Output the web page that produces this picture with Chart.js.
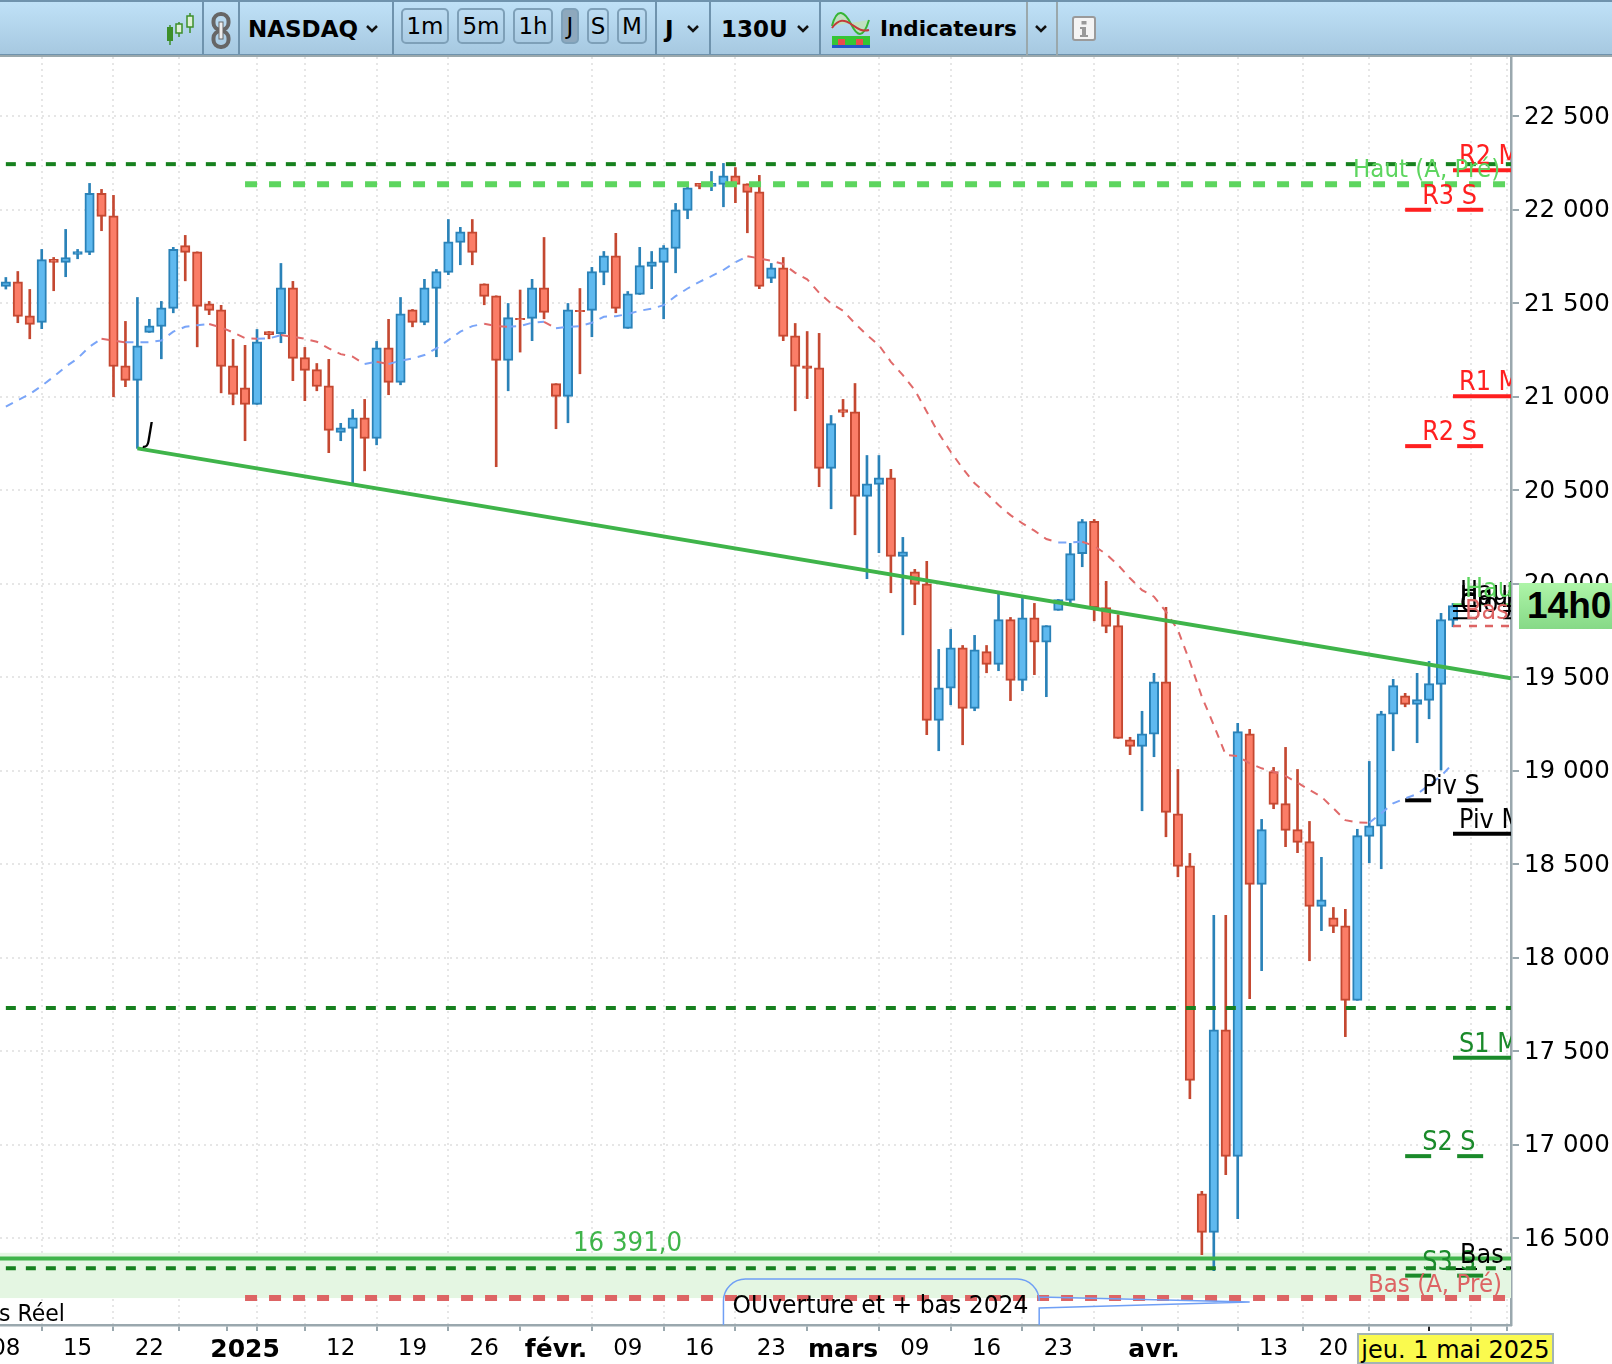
<!DOCTYPE html>
<html lang="fr">
<head>
<meta charset="utf-8">
<title>NASDAQ J</title>
<script src="https://cdn.jsdelivr.net/npm/chart.js@4"></script>
<style>
    html, body { margin: 0; padding: 0; background: #fff; }
    body { position: relative; width: 1612px; height: 1364px; overflow: hidden; font-family: "DejaVu Sans", sans-serif; color: #000; }
    #chart { position: absolute; left: 0; top: 57px; }

    /* barre d'outils */
    #bar { position: absolute; left: 0; top: 0; width: 1612px; height: 57px; box-sizing: border-box;
        background: linear-gradient(#bfe1f7, #a6c8e0); border-top: 2px solid #6f93ad; border-bottom: 2px solid #9aa8ac; box-shadow: inset 0 -1px 0 #6f93ad; }
    #bar .sep { position: absolute; top: 0; width: 1.5px; height: 53px; background: #6f93ad; }
    #bar .txt { position: absolute; top: 0; line-height: 54px; font-weight: bold; font-size: 23px; white-space: nowrap; }
    #bar .btn { position: absolute; top: 6px; height: 36px; box-sizing: border-box; border: 2px solid #7ea0b8; border-radius: 5px;
        text-align: center; line-height: 33px; font-size: 23px; background: linear-gradient(#bcdcf2, #a9cbe3); }
    #bar .btn.on { background: #8ea8bd; }
    #bar svg { position: absolute; }
    #date-tag { position: absolute; left: 1357px; top: 1333px; width: 197px; height: 31px; box-sizing: border-box; background: #fafa4e;
        border: 2px solid #a3b4b4; font-size: 24px; line-height: 30px; text-align: center; white-space: nowrap; }
    #price-tag { position: absolute; left: 1519px; top: 583px; width: 93px; height: 46px; overflow: hidden; box-sizing: border-box; padding-left: 8px;
        background: linear-gradient(#aef5a8, #86d987); font: bold 37px/46px "Liberation Sans", sans-serif; }
</style>
</head>
<body>
<div id="bar">
    <svg style="left:165px;top:9px" width="32" height="36" viewBox="0 0 32 36">
        <path d="M5 14v20M14 11v15M25 2v20" stroke="#3d8f2a" stroke-width="1.5"/>
        <rect x="2" y="16" width="6" height="14" fill="#3d8f2a"/><rect x="11" y="13" width="6" height="9" fill="#dff0d8" stroke="#3d8f2a" stroke-width="1.5"/><rect x="22" y="5" width="6" height="11" fill="#dff0d8" stroke="#3d8f2a" stroke-width="1.5"/>
    </svg>
    <div class="sep" style="left:202px"></div>
    <svg style="left:211px;top:10px" width="20" height="37" viewBox="0 0 20 37">
        <rect x="2.5" y="2" width="15" height="16" rx="7" fill="none" stroke="#666" stroke-width="4"/>
        <rect x="2.5" y="19" width="15" height="16" rx="7" fill="none" stroke="#666" stroke-width="4"/>
        <rect x="8" y="10" width="4" height="17" fill="#eee" stroke="#666"/>
    </svg>
    <div class="sep" style="left:238px"></div>
    <div class="txt" style="left:248px">NASDAQ</div>
    <svg style="left:365px;top:22px" width="14" height="10"><path d="M2 2l5 5 5-5" fill="none" stroke="#111" stroke-width="2.5"/></svg>
    <div class="sep" style="left:392px"></div>
    <div class="btn" style="left:401px;width:48px">1m</div>
    <div class="btn" style="left:457px;width:48px">5m</div>
    <div class="btn" style="left:513px;width:40px">1h</div>
    <div class="btn on" style="left:561px;width:18px">J</div>
    <div class="btn" style="left:587px;width:22px">S</div>
    <div class="btn" style="left:617px;width:30px">M</div>
    <div class="sep" style="left:655px"></div>
    <div class="txt" style="left:665px">J</div>
    <svg style="left:686px;top:22px" width="14" height="10"><path d="M2 2l5 5 5-5" fill="none" stroke="#111" stroke-width="2.5"/></svg>
    <div class="sep" style="left:709px"></div>
    <div class="txt" style="left:721px">130U</div>
    <svg style="left:796px;top:22px" width="14" height="10"><path d="M2 2l5 5 5-5" fill="none" stroke="#111" stroke-width="2.5"/></svg>
    <div class="sep" style="left:819px"></div>
    <svg style="left:831px;top:8px" width="40" height="40" viewBox="0 0 40 40">
        <path d="M1 16C6 -4 14 2 20 14S32 30 38 10" fill="#bfe0c0" stroke="#35b535" stroke-width="2"/>
        <path d="M1 18C8 8 14 10 20 14S30 22 38 20" fill="none" stroke="#c23b3b" stroke-width="2"/>
        <rect x="1" y="26" width="38" height="9" fill="#35c535"/><rect x="7" y="29" width="7" height="6" fill="#e84c4c"/><rect x="25" y="29" width="7" height="6" fill="#e84c4c"/>
        <rect x="1" y="35" width="38" height="3" fill="#2458c8"/>
    </svg>
    <div class="txt" style="left:880px;font-size:21.5px">Indicateurs</div>
    <div class="sep" style="left:1026px;background:#9aa8ac;width:2px"></div>
    <svg style="left:1034px;top:22px" width="14" height="10"><path d="M2 2l5 5 5-5" fill="none" stroke="#111" stroke-width="2.5"/></svg>
    <div class="sep" style="left:1056px;background:#9aa8ac;width:2px"></div>
    <svg style="left:1072px;top:14px" width="24" height="25" viewBox="0 0 24 25">
        <rect x="1" y="1" width="22" height="23" rx="2" fill="#f4f4f4" stroke="#9a9a9a" stroke-width="2"/>
        <rect x="9.5" y="5" width="5" height="3.5" fill="#999"/><path d="M8 11h6v8h2v2H8v-2h2v-6H8z" fill="#999"/>
    </svg>
</div>
<canvas id="chart" width="1612" height="1307"></canvas>
<div id="price-tag">14h0</div>
<div id="date-tag">jeu. 1 mai 2025</div>
<script>
// bougies journalieres (indice = position de la bougie)
const opens = [21590,21615,21433,21398,21735,21719,21761,21772,22088,21968,21166,21088,21344,21376,21473,21808,21775,21497,21465,21166,21048,20959,21349,21337,21583,21209,21145,21059,20809,20831,20888,20777,21262,21077,21465,21398,21579,21665,21825,21882,21604,21540,21194,21419,21419,21583,21070,21002,21462,21462,21665,21754,21366,21547,21697,21719,21793,21997,22141,22125,22136,22182,22139,22096,21633,21690,21326,21166,21155,20617,20931,20920,20467,20531,20567,20146,20064,20000,19269,19441,19658,19334,19637,19569,19808,19483,19818,19687,19858,19911,20161,20334,19872,19776,19166,19130,19195,19476,18770,18492,16738,16531,17615,16938,19198,18392,18995,18824,18685,18621,18275,18214,18171,17772,18649,18703,19302,19401,19355,19376,19462,19804];
const highs = [21638,21670,21574,21788,21745,21895,21788,22141,22109,22077,21403,21531,21414,21510,21799,21863,21775,21510,21489,21307,21275,21360,21349,21713,21617,21264,21178,21200,20858,20932,20986,21296,21414,21531,21467,21628,21681,21948,21906,21948,21604,21540,21499,21571,21628,21852,21070,21499,21579,21692,21777,21874,21563,21799,21777,21809,22034,22141,22141,22205,22248,22226,22139,22184,21713,21745,21392,21349,21339,20900,20986,21071,20686,20686,20612,20248,20077,20120,19649,19756,19670,19724,19670,19949,19820,19927,19895,19776,19916,20216,20344,20344,20013,19834,19179,19318,19521,19874,19007,18558,16751,18227,18227,19253,19221,18740,19018,19125,19007,18729,18537,18269,18259,18687,19050,19318,19489,19414,19521,19585,19842,19895];
const lows = [21576,21396,21310,21364,21567,21642,21738,21760,21888,21000,21054,20724,21344,21203,21449,21620,21267,21439,21021,20957,20765,20959,21310,21289,21086,20979,21032,20701,20765,20540,20604,20743,21011,21064,21374,21385,21214,21653,21706,21706,21492,20626,21032,21239,21300,21417,20829,20861,21123,21321,21599,21449,21366,21547,21578,21417,21663,21952,22112,22102,22016,22038,21877,21578,21610,21300,20925,20990,20519,20401,20893,20262,20027,20166,19952,19727,19888,19193,19107,19353,19139,19321,19524,19535,19375,19428,19514,19396,19858,19899,20091,19802,19738,19173,19086,18786,19075,18647,18433,17246,16412,16326,16840,16605,17781,17931,18797,18594,18562,17984,18145,18134,17578,17772,18508,18476,19107,19342,19150,19278,19004,19770];
const closes = [21615,21430,21387,21733,21719,21745,21777,22088,21965,21162,21088,21273,21380,21476,21788,21772,21483,21462,21162,21013,20959,21294,21332,21583,21205,21141,21055,20820,20834,20888,20777,21262,21077,21444,21398,21583,21669,21829,21882,21772,21537,21194,21423,21412,21583,21451,21002,21465,21455,21669,21754,21473,21551,21701,21722,21797,22000,22118,22125,22141,22182,22136,22093,21590,21690,21323,21162,21152,20617,20856,20916,20467,20535,20567,20146,20171,19997,19269,19444,19658,19334,19647,19569,19808,19483,19818,19687,19776,19915,20161,20332,19872,19772,19173,19130,19198,19476,18777,18489,17344,16531,17615,16938,19209,18392,18685,18820,18681,18617,18275,18310,18168,17772,18653,18706,19305,19455,19355,19380,19466,19808,19883];
// moyenne mobile en pointille
const movingAverage = [20947,20982,21014,21059,21107,21161,21205,21268,21310,21300,21291,21291,21292,21301,21348,21374,21383,21389,21371,21344,21314,21310,21312,21330,21321,21310,21294,21259,21228,21214,21175,21187,21175,21193,21205,21223,21259,21303,21348,21378,21391,21378,21374,21378,21396,21401,21366,21374,21378,21396,21428,21431,21442,21460,21471,21490,21538,21579,21615,21645,21678,21719,21752,21740,21727,21710,21663,21628,21556,21499,21460,21392,21330,21276,21187,21116,21036,20920,20804,20706,20617,20537,20483,20421,20367,20323,20284,20239,20221,20221,20225,20202,20159,20100,20029,19966,19931,19851,19752,19583,19396,19244,19084,19079,19039,19013,18995,18972,18936,18897,18861,18799,18736,18724,18722,18772,18826,18852,18875,18924,18972,19039];

// axes
const priceTicks = [16500,17000,17500,18000,18500,19000,19500,20000,20500,21000,21500,22000,22500];
const dateTickIndex = [0,6,12,17,20,22,28,34,40,46,52,58,64,70,76,82,88,94,96,100,106,111,117,121,124];
const dateTickLabels = ['08','15','22','','2025','','12','19','26','févr.','09','16','23','mars','09','16','23','','avr.','','13','20','','',''];
const monthTicks = [20,46,70,96];

// niveaux horizontaux
const darkLevels = [22244,17731,16340];
const yearHigh = 22137;
const yearLow = 16180;
const supportLevel = 16391;
const supportBandTop = 16422;
const trendStart = 20724;
const trendEnd = 19494;

// pivots hebdo et mensuels
const weekNames = ['R3 S','R2 S','Piv S','S2 S','S3 S'];
const weekLevels = [22000,20736,18842,16939,16300];
const monthNames = ['R2 M','R1 M','Piv M','S1 M'];
const monthLevels = [22212,21003,18663,17465];
const dayNames = ['Haut S','Haut J','Clo J','Bas J'];
const dayLevels = [19881,19854,19816,16335];
const prevWeekHigh = 19891;
const prevWeekLow = 19774;

const UP = { fill: '#5fb9ef', line: '#2a82b8' };
const DOWN = { fill: '#fb7d67', line: '#c44831' };
const RED = '#ff2020', GREEN = '#1a8a2a', LIGHT_GREEN = '#5dd55f', SOFT_RED = '#dd6464', TREND = '#3fb44a';

const lastX = 125.85, firstX = -0.489;

const isUp = i => closes[i] >= opens[i];

function hLine(y, from, to, color, width, dash) {
    return {
        type: 'line',
        data: [{ x: from, y: y }, { x: to, y: y }],
        borderColor: color,
        borderWidth: width,
        borderDash: dash || [],
        pointRadius: 0,
        order: 1
    };
}

const lineSets = [];
darkLevels.forEach(v => lineSets.push(hLine(v, 0, lastX, '#16801e', 4, [10, 10])));
lineSets.push(hLine(yearHigh, 20, 125.4, LIGHT_GREEN, 6, [12, 12]));
lineSets.push(hLine(yearLow, 20, 125.4, SOFT_RED, 6, [12, 12]));
lineSets.push(hLine(supportLevel, firstX, lastX, TREND, 4));
lineSets.push({
    type: 'line',
    data: [{ x: 11, y: trendStart }, { x: lastX, y: trendEnd }],
    borderColor: TREND,
    borderWidth: 4,
    pointRadius: 0,
    order: 1
});
lineSets.push({
    type: 'line',
    data: movingAverage.map((v, i) => ({ x: i, y: v })),
    borderWidth: 2,
    borderDash: [8, 7],
    borderColor: '#7aa5f8',
    pointRadius: 0,
    segment: { borderColor: c => (c.p1.parsed.y >= c.p0.parsed.y ? '#7aa5f8' : '#e06a6a') },
    order: 1
});
weekLevels.forEach((v, k) => {
    const c = weekNames[k][0] === 'R' ? RED : weekNames[k][0] === 'S' ? GREEN : '#000';
    lineSets.push(hLine(v, 117, 123.6, c, 4, [26, 26]));
});
monthLevels.forEach((v, k) => {
    const c = monthNames[k][0] === 'R' ? RED : monthNames[k][0] === 'S' ? GREEN : '#000';
    lineSets.push(hLine(v, 121, lastX, c, 4));
});
dayLevels.forEach(v => lineSets.push(hLine(v, 121, lastX, '#000', 2, [24, 26])));
lineSets.push(hLine(prevWeekHigh, 121, lastX, LIGHT_GREEN, 2, [12, 12]));
lineSets.push(hLine(prevWeekLow, 121, lastX, SOFT_RED, 2.5, [8, 8]));

// bande verte et annotations, par-dessus le canvas de Chart.js
const overlayPlugin = {
    id: 'overlay',
    beforeDatasetsDraw(chart) {
        const { ctx, chartArea: a, scales: { y } } = chart;
        const top = y.getPixelForValue(supportBandTop), bottom = y.getPixelForValue(yearLow);
        ctx.save();
        ctx.fillStyle = '#e4f6e2';
        ctx.fillRect(a.left, top, a.right - a.left, bottom - top);
        ctx.restore();
    },
    afterDatasetsDraw(chart) {
        const { ctx, chartArea: a, scales: { x, y } } = chart;
        ctx.save();
        ctx.beginPath();
        ctx.rect(a.left, a.top, a.right - a.left, a.bottom - a.top);
        ctx.clip();
        ctx.textBaseline = 'alphabetic';
        ctx.textAlign = 'left';

        // le texte du graphique d'origine est un peu plus haut que DejaVu
        const label = (text, px, py, color, font) => {
            ctx.save();
            ctx.translate(px, py);
            ctx.scale(1, 1.08);
            ctx.font = font || '24px "DejaVu Sans"';
            ctx.fillStyle = color;
            ctx.fillText(text, 0, 0);
            ctx.restore();
        };

        weekLevels.forEach((v, k) => {
            const c = weekNames[k][0] === 'R' ? RED : weekNames[k][0] === 'S' ? GREEN : '#000';
            label(weekNames[k], x.getPixelForValue(117) + 17, y.getPixelForValue(v) - 6, c);
        });
        monthLevels.forEach((v, k) => {
            const c = monthNames[k][0] === 'R' ? RED : monthNames[k][0] === 'S' ? GREEN : '#000';
            label(monthNames[k], x.getPixelForValue(121) + 6, y.getPixelForValue(v) - 6, c);
        });
        dayLevels.forEach((v, k) => label(dayNames[k], x.getPixelForValue(121) + 7, y.getPixelForValue(v) - 6, '#000'));
        label('Haut', x.getPixelForValue(121) + 12, y.getPixelForValue(prevWeekHigh) - 7, LIGHT_GREEN);
        label('Bas', x.getPixelForValue(121) + 12, y.getPixelForValue(prevWeekLow) - 7, SOFT_RED);
        label('Haut (A, Pré)', 1353, y.getPixelForValue(yearHigh) - 7, LIGHT_GREEN, '23px "DejaVu Sans"');
        label('Bas (A, Pré)', 1368, y.getPixelForValue(yearLow) - 6, SOFT_RED, '23px "DejaVu Sans"');
        label('16 391,0', 573, y.getPixelForValue(supportLevel) - 8, TREND, '24.5px "DejaVu Sans"');
        label('J', x.getPixelForValue(11) + 9, y.getPixelForValue(trendStart) - 6, '#000', 'italic 24px "DejaVu Sans"');
        label('s Réel', -1, a.bottom - 4, '#000', '22px "DejaVu Sans"');

        // bulle "OUverture et + bas 2024"
        const left = x.getPixelForValue(60), right = x.getPixelForValue(86.4), top = y.getPixelForValue(16282), r = 22;
        const tail1 = top + 18, tail2 = top + 29;
        ctx.strokeStyle = '#6f9ff5';
        ctx.lineWidth = 1.5;
        ctx.beginPath();
        ctx.moveTo(right, tail1);
        ctx.lineTo(right, top + r);
        ctx.arcTo(right, top, right - r, top, r);
        ctx.lineTo(left + r, top);
        ctx.arcTo(left, top, left, top + r, r);
        ctx.lineTo(left, a.bottom);
        ctx.moveTo(right, a.bottom);
        ctx.lineTo(right, tail2);
        ctx.lineTo(x.getPixelForValue(104), y.getPixelForValue(16159));
        ctx.lineTo(right, tail1);
        ctx.stroke();
        label('OUverture et + bas 2024', left + 9, top + 34, '#000', '23.5px "DejaVu Sans"');
        ctx.restore();
    }
};

new Chart(document.getElementById('chart'), {
    data: {
        datasets: [
            ...lineSets,
            {
                type: 'bar',
                data: opens.map((o, i) => ({ x: i, y: [o, closes[i]] })),
                backgroundColor: opens.map((o, i) => (isUp(i) ? UP.fill : DOWN.fill)),
                borderColor: opens.map((o, i) => (isUp(i) ? UP.line : DOWN.line)),
                borderWidth: 2,
                borderSkipped: false,
                barThickness: 9.4,
                grouped: false,
                order: 2
            },
            {
                type: 'bar',
                data: lows.map((l, i) => ({ x: i, y: [l, highs[i]] })),
                backgroundColor: opens.map((o, i) => (isUp(i) ? UP.line : DOWN.line)),
                borderWidth: 0,
                barThickness: 2,
                grouped: false,
                order: 3
            }
        ]
    },
    options: {
        responsive: false,
        animation: false,
        events: [],
        layout: { padding: 0 },
        plugins: { legend: { display: false }, tooltip: { enabled: false } },
        scales: {
            x: {
                type: 'linear',
                offset: false,
                min: firstX,
                max: lastX,
                afterBuildTicks(scale) { scale.ticks = dateTickIndex.map(v => ({ value: v })); },
                afterFit(scale) { scale.height = 39; scale.paddingLeft = 0; scale.paddingRight = 0; },
                border: { display: true, color: '#9aa8ae', width: 2.5, dash: [2, 4] },
                grid: {
                    lineWidth: 2,
                    color: c => (c.tick && monthTicks.includes(c.tick.value) || (c.tick && c.tick.value === 121) ? 'transparent' : '#e6e6e6'),
                    tickColor: c => (c.tick && c.tick.value === 121 ? '#222' : '#9aa8ae'),
                    tickLength: 6,
                    tickWidth: 2
                },
                ticks: {
                    autoSkip: false,
                    maxRotation: 0,
                    minRotation: 0,
                    padding: 4,
                    color: '#000',
                    font: c => ({ family: '"DejaVu Sans"', size: c.tick && monthTicks.includes(c.tick.value) ? 25 : 23, weight: c.tick && monthTicks.includes(c.tick.value) ? 'bold' : 'normal' }),
                    callback: value => dateTickLabels[dateTickIndex.indexOf(value)]
                }
            },
            y: {
                type: 'linear',
                position: 'right',
                min: 16036,
                max: 22817,
                afterBuildTicks(scale) { scale.ticks = priceTicks.map(v => ({ value: v })); },
                afterFit(scale) { scale.width = 101; scale.paddingTop = 0; scale.paddingBottom = 0; },
                border: { display: true, color: '#9aa8ae', width: 2.5, dash: [2, 4] },
                grid: { lineWidth: 2, color: '#e6e6e6', tickColor: '#9aa8ae', tickLength: 8, tickWidth: 2 },
                ticks: {
                    padding: 5,
                    labelOffset: 1,
                    color: '#000',
                    font: { family: '"DejaVu Sans"', size: 24.5 },
                    callback: value => String(value).replace(/(\d{2})(\d{3})/, '$1 $2')
                }
            }
        }
    },
    plugins: [overlayPlugin]
});
</script>
</body>
</html>
